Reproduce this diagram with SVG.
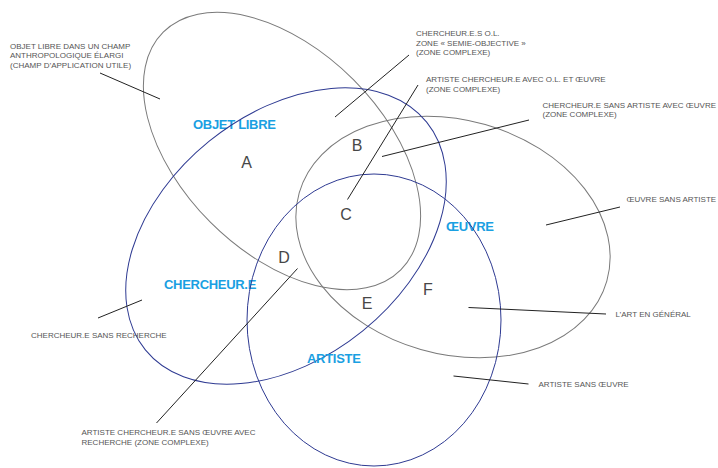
<svg xmlns="http://www.w3.org/2000/svg" width="718" height="468" viewBox="0 0 718 468">
<style>
.gray{fill:none;stroke:#7a7a7a;stroke-width:1}
.blue{fill:none;stroke:#2e3a92;stroke-width:1}
.set{font-family:"Liberation Sans",Arial,sans-serif;font-weight:bold;font-size:13px;fill:#1aa0e2;letter-spacing:-0.3px}
.zone{font-family:"Liberation Sans",Arial,sans-serif;font-size:16px;fill:#474747;text-anchor:middle}
.note{font-family:"Liberation Sans",Arial,sans-serif;font-size:8px;fill:#555}
.lead{stroke:#222;stroke-width:1;fill:none}
</style>
<rect width="718" height="468" fill="#fff"/>
<g id="objet-libre">
<ellipse class="gray" cx="282" cy="151" rx="168" ry="101" transform="rotate(45 282 151)"/>
<text class="set" x="193" y="129">OBJET LIBRE</text>
</g>
<g id="oeuvre">
<ellipse class="gray" cx="453" cy="237" rx="160" ry="117" transform="rotate(16 453 237)"/>
<text class="set" x="446" y="231">ŒUVRE</text>
</g>
<g id="chercheur">
<ellipse class="blue" cx="286" cy="236" rx="181" ry="122" transform="rotate(-39 286 236)"/>
<text class="set" x="164" y="289">CHERCHEUR.E</text>
</g>
<g id="artiste">
<ellipse class="blue" cx="374" cy="320" rx="127" ry="146"/>
<text class="set" x="307" y="363">ARTISTE</text>
</g>
<g id="zones">
<text class="zone" x="246.5" y="168">A</text>
<text class="zone" x="357" y="151">B</text>
<text class="zone" x="346" y="220">C</text>
<text class="zone" x="284" y="263">D</text>
<text class="zone" x="367" y="309">E</text>
<text class="zone" x="428" y="295">F</text>
</g>
<g id="connectors">
<line class="lead" x1="100" y1="73" x2="160" y2="99"/>
<line class="lead" x1="409" y1="55" x2="335" y2="117"/>
<line class="lead" x1="418" y1="85" x2="347.5" y2="199.5"/>
<line class="lead" x1="529" y1="120" x2="382" y2="156.5"/>
<line class="lead" x1="620" y1="207" x2="546" y2="225"/>
<line class="lead" x1="98" y1="318" x2="142" y2="300"/>
<line class="lead" x1="156.5" y1="423" x2="297.5" y2="268.5"/>
<line class="lead" x1="606" y1="314" x2="468.5" y2="307.5"/>
<line class="lead" x1="528.5" y1="384" x2="453.5" y2="376"/>
</g>
<g id="note-objet-libre-champ">
<text class="note" x="10" y="48.5">OBJET LIBRE DANS UN CHAMP</text>
<text class="note" x="10" y="58">ANTHROPOLOGIQUE ÉLARGI</text>
<text class="note" x="10" y="67.5">(CHAMP D’APPLICATION UTILE)</text>
</g>
<g id="note-chercheurs-ol">
<text class="note" x="416" y="35.5">CHERCHEUR.E.S O.L.</text>
<text class="note" x="416" y="45.5">ZONE « SEMIE-OBJECTIVE »</text>
<text class="note" x="416" y="55">(ZONE COMPLEXE)</text>
</g>
<g id="note-artiste-chercheur-ol-oeuvre">
<text class="note" x="426" y="82">ARTISTE CHERCHEUR.E AVEC O.L. ET ŒUVRE</text>
<text class="note" x="426" y="91.5">(ZONE COMPLEXE)</text>
</g>
<g id="note-chercheur-sans-artiste">
<text class="note" x="542.5" y="107.5">CHERCHEUR.E SANS ARTISTE AVEC ŒUVRE</text>
<text class="note" x="542.5" y="117">(ZONE COMPLEXE)</text>
</g>
<g id="note-oeuvre-sans-artiste">
<text class="note" x="626.5" y="202">ŒUVRE SANS ARTISTE</text>
</g>
<g id="note-chercheur-sans-recherche">
<text class="note" x="31" y="338">CHERCHEUR.E SANS RECHERCHE</text>
</g>
<g id="note-artiste-chercheur-sans-oeuvre">
<text class="note" x="81.5" y="435">ARTISTE CHERCHEUR.E SANS ŒUVRE AVEC</text>
<text class="note" x="81.5" y="444.5">RECHERCHE (ZONE COMPLEXE)</text>
</g>
<g id="note-art-en-general">
<text class="note" x="615.5" y="316.5">L’ART EN GÉNÉRAL</text>
</g>
<g id="note-artiste-sans-oeuvre">
<text class="note" x="538.5" y="387">ARTISTE SANS ŒUVRE</text>
</g>
</svg>
